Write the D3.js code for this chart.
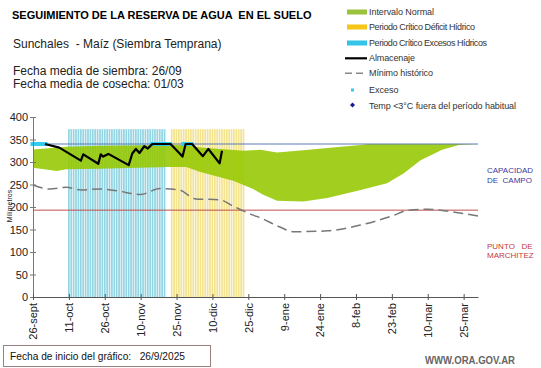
<!DOCTYPE html>
<html><head><meta charset="utf-8">
<script src="https://cdn.jsdelivr.net/npm/d3@7"></script>
<style>body{margin:0;background:#fff}svg{display:block}text{font-family:"Liberation Sans",Arial,sans-serif}</style>
</head><body><svg id="c" width="541" height="368"></svg>
<script>
// ---- data (day offset from 26-sept-2025, mm) ----
const tickLabels = ["26-sept","11-oct","26-oct","10-nov","25-nov","10-dic","25-dic","9-ene","24-ene","8-feb","23-feb","10-mar","25-mar"];
const tickDays = [0,15,30,45,60,75,90,105,120,135,150,165,180];
const yTicks = [0,50,100,150,200,250,300,350,400];
const normalUpper = [[0,328],[14,334],[28,336],[56,338],[64,337],[70,332],[88,325],[95,327],[102,321],[113,326],[123,331],[137,338],[140,340],[186,340]];
const normalLower = [[0,287],[10,280],[14,284],[28,285],[56,289],[64,289],[70,278],[84,258],[92,240],[96,228],[102,214],[113,212],[123,220],[137,238],[148,253],[155,275],[162,304],[171,327],[178,338],[186,340]];
const almacenaje = [[5,340],[11,332],[20,303],[21,317],[27.3,296],[28.3,317],[29.3,312],[31.5,318],[40,293],[41.5,319],[43,329],[44.5,320],[46.5,335],[48,330],[49.5,338],[50,340],[57.5,340],[62.5,312],[63.8,340],[66.5,340],[71,313],[73.3,329],[78,297],[79,325]];
const minimoHist = [[0,249],[7,240],[14,244],[20,238],[28,240],[35,236],[45,228],[53,241],[61,238],[68,218],[78,216],[84,201],[92,182],[95,176],[103,156],[109,145],[123,147],[137,160],[150,180],[157,193],[165,195],[174,190],[186,180]];
const excesoDays = [0,1,2,3,4,5,50,51,52,53,54,55,56,57,63,64,65,66];
const excesoValue = 340;
const excesosPeriod = d3.range(15,56);   // Periodo Crítico Excesos Hídricos
const deficitPeriod = d3.range(58,89);   // Periodo Crítico Déficit Hídrico
const periodTop = 373;
const capacidadCampo = 340;
const puntoMarchitez = 193;

// ---- drawing ----
const svg = d3.select("#c");
const x = d3.scaleLinear().domain([0,186]).range([33,478]);
const y = d3.scaleLinear().domain([0,400]).range([297,117]);
const dayW = x(1)-x(0);

// period bars
svg.append("g").selectAll("rect").data(excesosPeriod).join("rect")
  .attr("x",d=>x(d)-dayW/2+0.3).attr("width",dayW*0.72)
  .attr("y",y(periodTop)).attr("height",y(0)-y(periodTop)).attr("fill","#93d5e3");
svg.append("g").selectAll("rect").data(deficitPeriod).join("rect")
  .attr("x",d=>x(d)-dayW/2+0.3).attr("width",dayW*0.72)
  .attr("y",y(periodTop)).attr("height",y(0)-y(periodTop)).attr("fill","#f3e38e");

// normal interval band
const poly = normalUpper.map(d=>[x(d[0]),y(d[1])]).concat(normalLower.slice().reverse().map(d=>[x(d[0]),y(d[1])]));
svg.append("path").attr("d","M"+poly.map(p=>p.join(",")).join("L")+"Z")
  .attr("fill","#95c800").attr("fill-opacity",0.88);

// horizontal reference lines
svg.append("line").attr("x1",x(0)).attr("x2",x(186)).attr("y1",y(capacidadCampo)).attr("y2",y(capacidadCampo)).attr("stroke","#5b7bb5").attr("stroke-width",1);
svg.append("line").attr("x1",x(0)).attr("x2",x(186)).attr("y1",y(puntoMarchitez)).attr("y2",y(puntoMarchitez)).attr("stroke","#c0504d").attr("stroke-width",1);

// minimo historico
const line = d3.line().x(d=>x(d[0])).y(d=>y(d[1])).curve(d3.curveMonotoneX);
svg.append("path").attr("d",line(minimoHist)).attr("fill","none").attr("stroke","#777").attr("stroke-width",1.5).attr("stroke-dasharray","10,5");

// exceso markers
svg.append("g").selectAll("rect").data(excesoDays).join("rect")
  .attr("x",d=>x(d)-2.5).attr("y",y(excesoValue)-2).attr("width",5).attr("height",4).attr("fill","#33ccee");

// almacenaje
svg.append("path").attr("d",d3.line().x(d=>x(d[0])).y(d=>y(d[1]))(almacenaje)).attr("fill","none").attr("stroke","#000").attr("stroke-width",2.2).attr("stroke-linejoin","round");

// axes
const yAxis = svg.append("g").attr("transform",`translate(${x(0)},0)`)
  .call(d3.axisLeft(y).tickValues(yTicks).tickSize(3).tickSizeInner(3));
yAxis.select(".domain").attr("stroke","#777");
yAxis.selectAll(".tick line").attr("stroke","#777").attr("x1",3);
yAxis.selectAll(".tick text").attr("font-size",11).attr("fill","#222").attr("x",-5).attr("font-family","Liberation Sans, Arial");

const xAxis = svg.append("g").attr("transform",`translate(0,${y(0)})`)
  .call(d3.axisBottom(x).tickValues(tickDays).tickFormat((d,i)=>tickLabels[i]).tickSizeOuter(0).tickSizeInner(3));
xAxis.select(".domain").attr("stroke","#555").attr("stroke-width",1.2);
xAxis.selectAll(".tick line").attr("stroke","#555").attr("y1",-3);
xAxis.selectAll(".tick text").attr("font-size",11).attr("fill","#222").attr("font-family","Liberation Sans, Arial")
  .attr("transform","rotate(-90)").attr("text-anchor","end").attr("x",-6).attr("y",0).attr("dy","0.35em");

svg.append("text").attr("transform","translate(12,206) rotate(-90)").attr("text-anchor","middle")
  .attr("font-size",7).attr("fill","#222").text("Milímetros");

// right labels
svg.append("text").attr("x",487).attr("y",173).attr("font-size",8).attr("fill","#3a3a9c").text("CAPACIDAD");
svg.append("text").attr("x",487).attr("y",183).attr("font-size",8).attr("fill","#3a3a9c").attr("xml:space","preserve").text("DE  CAMPO");
svg.append("text").attr("x",487).attr("y",249).attr("font-size",8).attr("fill","#c23b3b").attr("xml:space","preserve").text("PUNTO   DE");
svg.append("text").attr("x",487).attr("y",258).attr("font-size",8).attr("fill","#c23b3b").text("MARCHITEZ");

// titles
svg.append("text").attr("x",12).attr("y",19).attr("font-size",11).attr("font-weight","bold").attr("fill","#000").attr("xml:space","preserve").text("SEGUIMIENTO DE LA RESERVA DE AGUA  EN EL SUELO");
svg.append("text").attr("x",13).attr("y",48).attr("font-size",12).attr("fill","#222").attr("xml:space","preserve").text("Sunchales  - Maíz (Siembra Temprana)");
svg.append("text").attr("x",13).attr("y",75).attr("font-size",12).attr("fill","#222").text("Fecha media de siembra: 26/09");
svg.append("text").attr("x",13).attr("y",88).attr("font-size",12).attr("fill","#222").text("Fecha media de cosecha: 01/03");

// legend
const lg = svg.append("g");
const lt = (yy,t,len)=>{const el=lg.append("text").attr("x",369).attr("y",yy+3).attr("font-size",9).attr("fill","#333").text(t);
  if(len) el.attr("textLength",len).attr("lengthAdjust","spacing"); return el;};
lg.append("rect").attr("x",347).attr("y",9.5).attr("width",20).attr("height",5).attr("fill","#9bc23c"); lt(11.7,"Intervalo Normal",65);
lg.append("rect").attr("x",347).attr("y",24.5).attr("width",20).attr("height",5).attr("fill","#f5c518"); lt(26.7,"Periodo Crítico Déficit Hídrico",106);
lg.append("rect").attr("x",347).attr("y",40.5).attr("width",20).attr("height",5).attr("fill","#33c4e8"); lt(42.7,"Periodo Crítico Excesos Hídricos",118);
lg.append("line").attr("x1",345).attr("x2",367).attr("y1",58.3).attr("y2",58.3).attr("stroke","#000").attr("stroke-width",2.2); lt(58.3,"Almacenaje",46);
lg.append("line").attr("x1",345).attr("x2",367).attr("y1",73.3).attr("y2",73.3).attr("stroke","#888").attr("stroke-width",1.5).attr("stroke-dasharray","7,4"); lt(73.3,"Mínimo histórico",64);
lg.append("rect").attr("x",351).attr("y",88.5).attr("width",3).attr("height",3).attr("fill","#33ccee");
lt(90,"Exceso",null);
lg.append("path").attr("d","M352.5,102.5L355,105L352.5,107.5L350,105Z").attr("fill","#1a1a99");
lt(106,"Temp <3°C fuera del período habitual",147);

// bottom box
svg.append("rect").attr("x",3.5).attr("y",345.5).attr("width",207).attr("height",21).attr("fill","#fff").attr("stroke","#9a8080");
svg.append("text").attr("x",10).attr("y",360).attr("font-size",11).attr("font-family","Open Sans, sans-serif").attr("fill","#111").attr("xml:space","preserve").attr("textLength",175).attr("lengthAdjust","spacingAndGlyphs").text("Fecha de inicio del gráfico:   26/9/2025");
svg.append("text").attr("x",425).attr("y",364).attr("font-size",10).attr("font-weight","bold").attr("fill","#666").attr("textLength",90).attr("lengthAdjust","spacingAndGlyphs").text("WWW.ORA.GOV.AR");
</script></body></html>
